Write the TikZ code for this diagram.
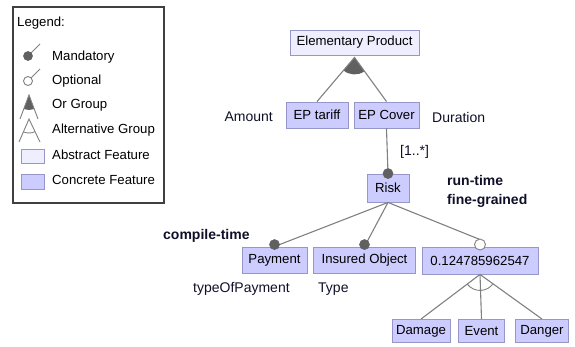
\documentclass[tikz,border=0pt]{standalone}
\usepackage{fontspec}
\setmainfont{Liberation Sans}
\usetikzlibrary{calc}
\definecolor{concrete}{RGB}{204,204,255}
\definecolor{abstract}{RGB}{238,238,255}
\definecolor{boxline}{RGB}{150,150,200}
\definecolor{edge}{RGB}{128,128,128}
\definecolor{knob}{RGB}{96,96,96}
\definecolor{ink}{RGB}{15,15,40}
\tikzset{
  feat/.style={draw=boxline, line width=0.9pt, fill=concrete, inner sep=0pt,
    minimum height=26pt, font=\fontsize{13.2}{15}\selectfont, text=black},
  absfeat/.style={feat, fill=abstract},
  edgeline/.style={draw=edge, line width=1.1pt},
  mandot/.style={fill=knob, draw=knob, line width=0.6pt},
  optdot/.style={fill=white, draw=edge, line width=0.9pt},
  lbl/.style={font=\fontsize{14}{16}\selectfont, text=ink, inner sep=0pt},
  boldlbl/.style={lbl, font=\fontsize{14}{16}\selectfont\bfseries},
  legtext/.style={font=\fontsize{13.2}{15}\selectfont, text=black, inner sep=0pt, anchor=west}
}
\begin{document}
\begin{tikzpicture}[x=1pt, y=-1pt]
\useasboundingbox (0,0) rectangle (575,347);

% ---- legend ----
\node[draw=black!75, line width=1.1pt, minimum width=151pt, minimum height=196pt,
  inner sep=0pt] (legend) at (88.5,105) {};
\node[legtext] (lgtitle) at (17,23) {Legend:};
\node[legtext] (lgman) at (52,57) {Mandatory};
\node[legtext] (lgopt) at (52,81) {Optional};
\node[legtext] (lgor) at (52,105) {Or Group};
\node[legtext] (lgalt) at (52,130) {Alternative Group};
\node[legtext] (lgabs) at (52,155) {Abstract Feature};
\node[legtext] (lgcon) at (52,180) {Concrete Feature};
% mandatory icon
\coordinate (mA) at (28,56);
\coordinate (mB) at (40,44);
\draw[edgeline, line width=0.9pt] (mA) -- (mB);
\fill[mandot] (mA) circle[radius=4.5];
% optional icon
\coordinate (oA) at (28,81);
\coordinate (oB) at (40,69);
\draw[edgeline, line width=0.9pt] ($(oA)!4.5pt!(oB)$) -- (oB);
\draw[optdot] (oA) circle[radius=4.5];
% or-group icon
\coordinate (gA) at (29,95);
\coordinate (gL) at (20,119);
\coordinate (gR) at (38,119);
\fill[knob] let \p1=($(gL)-(gA)$), \p2=($(gR)-(gA)$), \n1={atan2(\y1,\x1)}, \n2={atan2(\y2,\x2)} in
  (gA) -- ++(\n1:15pt) arc[start angle=\n1, end angle=\n2, radius=15pt] -- cycle;
\draw[edgeline, line width=0.9pt] (gL) -- (gA) -- (gR);
% alternative-group icon
\coordinate (aA) at (29,119);
\coordinate (aL) at (19,142);
\coordinate (aR) at (40,142);
\draw[edgeline, line width=0.9pt] (aL) -- (aA) -- (aR);
\draw[edgeline, line width=0.9pt] let \p1=($(aL)-(aA)$), \p2=($(aR)-(aA)$), \n1={atan2(\y1,\x1)}, \n2={atan2(\y2,\x2)} in
  ($(aA)+(\n1:14pt)$) arc[start angle=\n1, end angle=\n2, radius=14pt];
% swatches
\node[draw=boxline, line width=0.9pt, fill=abstract, minimum width=23pt, minimum height=14pt, inner sep=0pt] (swabs) at (32.5,156) {};
\node[draw=boxline, line width=0.9pt, fill=concrete, minimum width=23pt, minimum height=15pt, inner sep=0pt] (swcon) at (32.5,181.5) {};

% ---- feature boxes ----
\node[absfeat, minimum width=129pt, minimum height=25pt] (ep) at (354.5,42.5) {Elementary Product};
\node[feat, minimum width=62pt] (tariff) at (317,115) {EP tariff};
\node[feat, minimum width=65pt] (cover) at (386.5,115) {EP Cover};
\node[feat, minimum width=42pt, minimum height=28pt] (risk) at (388,188) {Risk};
\node[feat, minimum width=65pt] (payment) at (274.5,260) {Payment};
\node[feat, minimum width=102pt] (insured) at (364.5,260) {Insured Object};
\node[feat, minimum width=116pt, minimum height=27pt] (num) at (480,260.5) {0.124785962547};
\node[feat, minimum width=58pt, minimum height=23pt] (damage) at (421,331) {Damage};
\node[feat, minimum width=46pt, minimum height=23pt] (event) at (481.5,331) {Event};
\node[feat, minimum width=53pt, minimum height=23pt] (danger) at (542,331) {Danger};

% ---- or group under Elementary Product ----
\coordinate (orA) at ($(ep.south)+(0,2)$);
\fill[knob] let \p1=($(tariff.north)-(orA)$), \p2=($(cover.north)-(orA)$), \n1={atan2(\y1,\x1)}, \n2={atan2(\y2,\x2)} in
  (orA) -- ++(\n1:17pt) arc[start angle=\n1, end angle=\n2, radius=17pt] -- cycle;
\draw[edgeline] (tariff.north) -- (orA) -- (cover.north);

% ---- mandatory / optional children ----
\draw[edgeline] (cover.south) -- (risk.north);
\fill[mandot] (risk.north) circle[radius=5];
\draw[edgeline] (risk.south) -- (payment.north);
\fill[mandot] ($(payment.north)+(0,-2)$) circle[radius=5];
\draw[edgeline] (risk.south) -- (insured.north);
\fill[mandot] ($(insured.north)+(0,-2)$) circle[radius=5];
\draw[edgeline] (risk.south) -- ($(num.north)+(0,-7)$);
\draw[optdot] ($(num.north)+(0,-2)$) circle[radius=5.5];

% ---- alternative group ----
\draw[edgeline] (damage.north) -- (num.south) -- (danger.north);
\draw[edgeline] (num.south) -- (event.north);
\draw[edgeline, line width=0.9pt] let \p1=($(damage.north)-(num.south)$), \p2=($(danger.north)-(num.south)$), \n1={atan2(\y1,\x1)}, \n2={atan2(\y2,\x2)} in
  ($(num.south)+(\n1:16pt)$) arc[start angle=\n1, end angle=\n2, radius=16pt];

% ---- attribute and annotation labels ----
\node[lbl, anchor=east] (amount) at (273,117) {Amount};
\node[lbl, anchor=west] (duration) at (432,117) {Duration};
\node[lbl, anchor=west] (card) at (400,152) {[1..*]};
\node[boldlbl, anchor=west] (runtime) at (447,180) {run-time};
\node[boldlbl, anchor=west] (fine) at (447,201) {fine-grained};
\node[boldlbl, anchor=west] (compile) at (163,236) {compile-time};
\node[lbl, anchor=west] (typepay) at (193,289) {typeOfPayment};
\node[lbl, anchor=west] (type) at (318,289) {Type};
\end{tikzpicture}
\end{document}
